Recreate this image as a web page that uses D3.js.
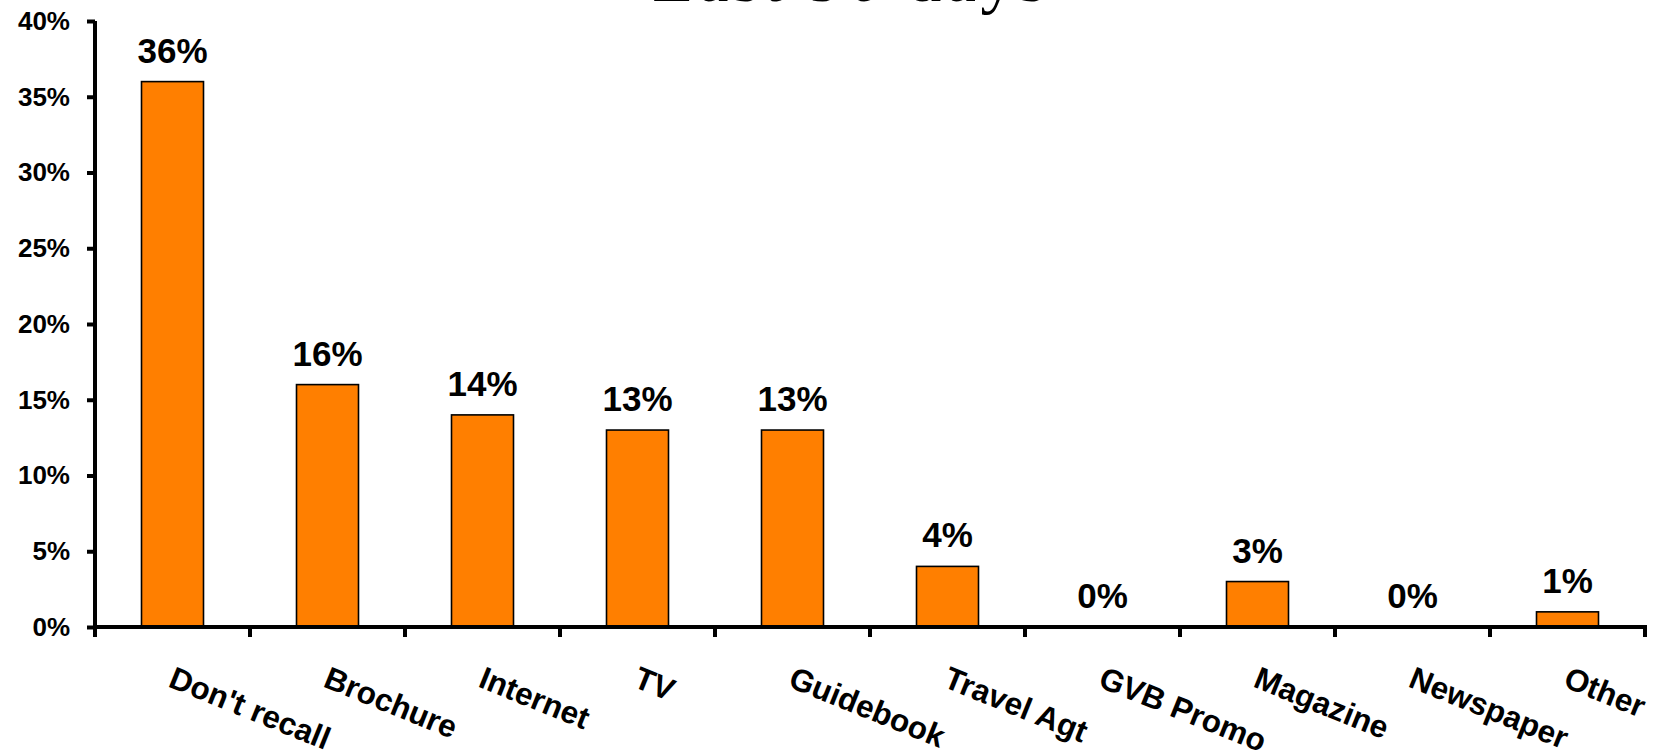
<!DOCTYPE html>
<html>
<head>
<meta charset="utf-8">
<script src="https://cdn.jsdelivr.net/npm/d3@7/dist/d3.min.js"></script>
<style>
  html, body { margin: 0; padding: 0; background: #fff; }
  svg { display: block; }
</style>
</head>
<body>
<svg id="chart" width="1657" height="754"></svg>
<script>
// Source of awareness, share of respondents
const categories = ["Don't recall", "Brochure", "Internet", "TV", "Guidebook",
                    "Travel Agt", "GVB Promo", "Magazine", "Newspaper", "Other"];
const values = [36, 16, 14, 13, 13, 4, 0, 3, 0, 1];
const yTicks = [0, 5, 10, 15, 20, 25, 30, 35, 40];
const titleText = "Last 90 days";

const svg = d3.select("#chart");
const plotLeft = 95, plotRight = 1645, plotTop = 21, plotBottom = 627;

const x = d3.scaleBand().domain(categories).range([plotLeft, plotRight]).paddingInner(0.6).paddingOuter(0.3);
const xEdges = d3.scaleLinear().domain([0, categories.length]).range([plotLeft, plotRight]);
const y = d3.scaleLinear().domain([0, 40]).range([plotBottom, plotTop]);

// Title (partly off the top of the canvas)
svg.append("text")
  .attr("x", 851).attr("y", 1)
  .attr("text-anchor", "middle")
  .attr("font-family", "'Liberation Serif', 'Times New Roman', serif")
  .attr("font-size", 68)
  .attr("letter-spacing", 4.5)
  .attr("fill", "#000")
  .text(titleText);

// Bars
svg.append("g").selectAll("rect")
  .data(values)
  .join("rect")
  .attr("x", (d, i) => x(categories[i]))
  .attr("width", x.bandwidth())
  .attr("y", d => y(d))
  .attr("height", d => plotBottom - y(d))
  .attr("fill", "#FF7F00")
  .attr("stroke", d => d > 0 ? "#000" : "none")
  .attr("stroke-width", 1.6);

// Value labels
svg.append("g").selectAll("text")
  .data(values)
  .join("text")
  .attr("x", (d, i) => x(categories[i]) + x.bandwidth() / 2)
  .attr("y", d => y(d) - 19)
  .attr("text-anchor", "middle")
  .attr("font-family", "'Liberation Sans', Arial, sans-serif")
  .attr("font-weight", "bold")
  .attr("font-size", 35)
  .attr("fill", "#000")
  .text(d => d + "%");

// Y axis
const yAxis = d3.axisLeft(y).tickValues(yTicks).tickSize(8).tickFormat(d => d + "%");
const gy = svg.append("g").attr("transform", `translate(${plotLeft},0)`).call(yAxis);
gy.select(".domain").attr("stroke", "#000").attr("stroke-width", 4).attr("d", `M0,${plotTop}V${plotBottom}`);
gy.selectAll(".tick line").attr("stroke", "#000").attr("stroke-width", 4);
gy.selectAll(".tick text")
  .attr("x", -25)
  .attr("font-family", "'Liberation Sans', Arial, sans-serif")
  .attr("font-weight", "bold")
  .attr("font-size", 26)
  .attr("fill", "#000");

// X axis: line with tick marks at category boundaries
const gx = svg.append("g").attr("transform", `translate(0,${plotBottom})`);
gx.append("line")
  .attr("x1", plotLeft - 2).attr("x2", plotRight + 2)
  .attr("y1", 0).attr("y2", 0)
  .attr("stroke", "#000").attr("stroke-width", 4);
gx.selectAll(".xtick")
  .data(d3.range(categories.length + 1))
  .join("line")
  .attr("class", "xtick")
  .attr("x1", d => xEdges(d)).attr("x2", d => xEdges(d))
  .attr("y1", 0).attr("y2", 10)
  .attr("stroke", "#000").attr("stroke-width", 4);

// Rotated category labels
gx.selectAll(".xlabel")
  .data(categories)
  .join("text")
  .attr("class", "xlabel")
  .attr("transform", d => `translate(${x(d) + x.bandwidth() / 2 + 3},38) rotate(22)`)
  .attr("y", 23)
  .attr("font-family", "'Liberation Sans', Arial, sans-serif")
  .attr("font-weight", "bold")
  .attr("font-size", 31.5)
  .attr("fill", "#000")
  .text(d => d);
</script>
</body>
</html>
